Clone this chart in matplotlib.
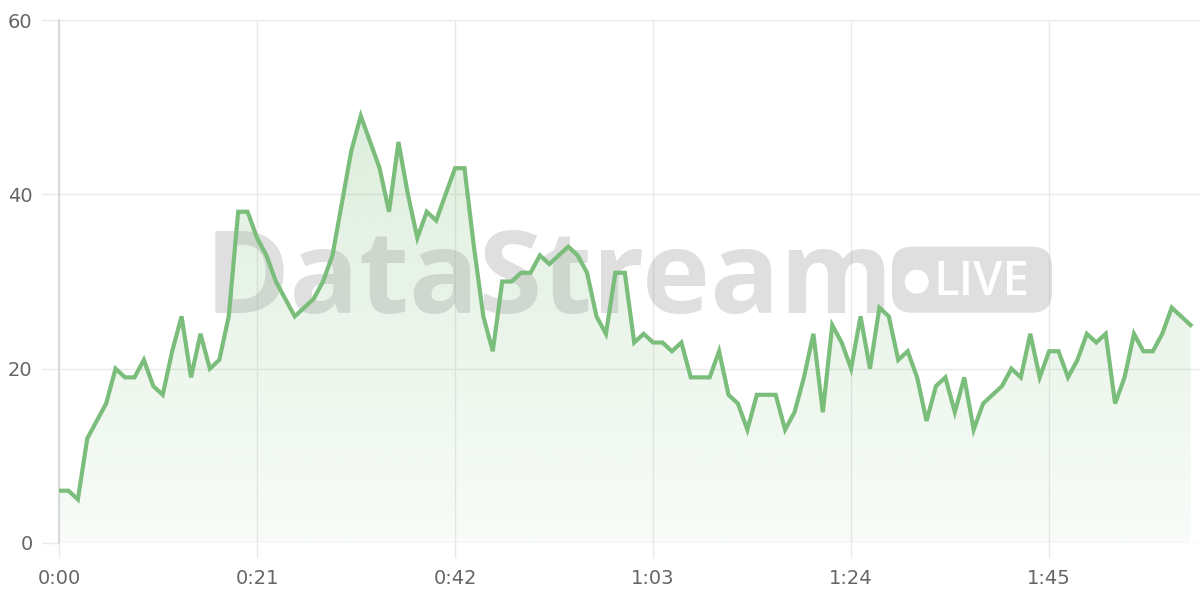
import numpy as np
import matplotlib.pyplot as plt
from matplotlib.patches import FancyBboxPatch, Circle

# viewers per second of the stream (0:00 .. 2:00)
viewers = [6, 6, 5, 12, 14, 16, 20, 19, 19, 21, 18, 17, 22, 26, 19, 24, 20, 21, 26, 38,
           38, 35, 33, 30, 28, 26, 27, 28, 30, 33, 39, 45, 49, 46, 43, 38, 46, 40, 35, 38,
           37, 40, 43, 43, 34, 26, 22, 30, 30, 31, 31, 33, 32, 33, 34, 33, 31, 26, 24, 31,
           31, 23, 24, 23, 23, 22, 23, 19, 19, 19, 22, 17, 16, 13, 17, 17, 17, 13, 15, 19,
           24, 15, 25, 23, 20, 26, 20, 27, 26, 21, 22, 19, 14, 18, 19, 15, 19, 13, 16, 17,
           18, 20, 19, 24, 19, 22, 22, 19, 21, 24, 23, 24, 16, 19, 24, 22, 22, 24, 27, 26, 25]
seconds = list(range(len(viewers)))

x_ticks = [0, 21, 42, 63, 84, 105]
x_labels = ["0:00", "0:21", "0:42", "1:03", "1:24", "1:45"]
y_ticks = [0, 20, 40, 60]

line_color = "#7bbd7b"
grid_color = "#e9e9e9"
label_color = "#666666"

fig = plt.figure(figsize=(12, 6), dpi=100)
ax = fig.add_axes([59 / 1200, 57 / 600, 1141 / 1200, 523 / 600])

# gradient fill under the line
fill = ax.fill_between(seconds, viewers, 0, facecolor="none", edgecolor="none")
grad = np.zeros((256, 1, 4))
grad[:, 0, :3] = np.array([123, 189, 123]) / 255
grad[:, 0, 3] = np.linspace(0.30, 0.05, 256)
im = ax.imshow(grad, extent=[0, 121, 0, 60], aspect="auto", zorder=1, origin="upper")
im.set_clip_path(fill.get_paths()[0], ax.transData)
ax.set_xlim(0, 121)
ax.set_ylim(0, 60)

# watermark
inch = fig.dpi_scale_trans
ax.text(2.05, 6 - 3.13, "DataStream", transform=inch, fontsize=83, fontweight="bold",
        family="Open Sans", color="#9e9e9e", alpha=0.33, ha="left", va="baseline", zorder=2)
pill = FancyBboxPatch((8.92, 6 - 3.127), 1.60, 0.66, boxstyle="round,pad=0,rounding_size=0.2",
                      transform=inch, facecolor="#9e9e9e", edgecolor="none", alpha=0.32, zorder=2)
ax.add_patch(pill)
ax.add_patch(Circle((9.167, 6 - 2.817), 0.12, transform=inch, facecolor="white",
                    edgecolor="none", zorder=2.1))
ax.text(9.33, 6 - 2.95, "LIVE", transform=inch, fontsize=34, fontweight="semibold",
        family="Open Sans", color="white", ha="left", va="baseline", zorder=2.1)

ax.plot(seconds, viewers, color=line_color, lw=3, solid_joinstyle="miter", zorder=3)

# axes styling
for side in ["top", "right", "bottom"]:
    ax.spines[side].set_visible(False)
ax.spines["left"].set_color("#d4d4d4")
ax.spines["left"].set_linewidth(1.2)
ax.set_xticks(x_ticks)
ax.set_xticklabels(x_labels)
ax.set_yticks(y_ticks)
ax.grid(True, color=grid_color, lw=1, zorder=0)
ax.set_axisbelow(True)
ax.tick_params(axis="x", length=11, width=1, color=grid_color, pad=8,
               labelsize=14, labelcolor=label_color)
ax.tick_params(axis="y", length=12, width=1, color=grid_color, pad=7,
               labelsize=14, labelcolor=label_color)

fig.savefig("out.png", dpi=100)
